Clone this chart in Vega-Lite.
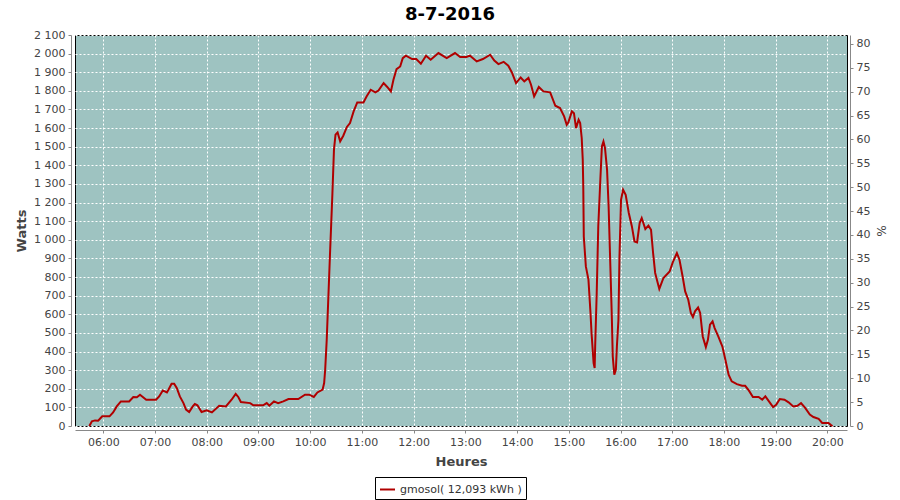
{
  "$schema": "https://vega.github.io/schema/vega-lite/v6.json",
  "width": 772,
  "height": 391,
  "autosize": {"type": "none"},
  "padding": {"left": 75, "top": 35, "right": 53, "bottom": 74},
  "background": "white",
  "title": {"text": "8-7-2016", "font": "DejaVu Sans", "fontSize": 18, "fontWeight": "bold", "color": "#000", "anchor": "middle", "dx": -11, "offset": 5},
  "config": {
    "view": {"fill": "#9EC3C1", "stroke": "#000", "strokeWidth": 1},
    "axis": {
      "labelFont": "DejaVu Sans", "labelFontSize": 11, "labelColor": "#444",
      "titleFont": "DejaVu Sans", "titleFontSize": 13, "titleFontWeight": "bold", "titleColor": "#444",
      "domainColor": "#888", "tickColor": "#888", "tickSize": 3, "labelPadding": 3,
      "gridColor": "#ffffff", "gridDash": [2, 2], "gridOpacity": 1, "gridWidth": 1,
      "labelOverlap": false, "labelFlush": false
    },
    "legend": {
      "orient": "none", "legendX": 300, "legendY": 442,
      "strokeColor": "#000", "fillColor": "#fff", "padding": 4, "cornerRadius": 0,
      "symbolType": "stroke", "symbolStrokeWidth": 2, "symbolSize": 225,
      "labelFont": "DejaVu Sans", "labelFontSize": 11, "labelColor": "#333", "labelOffset": 4
    }
  },
  "data": {"values": [
    {"h": 5.73, "w": 0}, {"h": 5.78, "w": 25}, {"h": 5.84, "w": 30}, {"h": 5.90, "w": 28}, {"h": 5.98, "w": 52},
    {"h": 6.12, "w": 52}, {"h": 6.19, "w": 73}, {"h": 6.26, "w": 105}, {"h": 6.34, "w": 132}, {"h": 6.50, "w": 132},
    {"h": 6.58, "w": 156}, {"h": 6.65, "w": 154}, {"h": 6.71, "w": 168}, {"h": 6.83, "w": 141}, {"h": 7.02, "w": 141},
    {"h": 7.08, "w": 159}, {"h": 7.15, "w": 191}, {"h": 7.23, "w": 180}, {"h": 7.26, "w": 195}, {"h": 7.32, "w": 227},
    {"h": 7.37, "w": 227}, {"h": 7.42, "w": 204}, {"h": 7.48, "w": 159}, {"h": 7.55, "w": 123}, {"h": 7.60, "w": 88},
    {"h": 7.66, "w": 75}, {"h": 7.73, "w": 105}, {"h": 7.77, "w": 118}, {"h": 7.82, "w": 111}, {"h": 7.90, "w": 75},
    {"h": 8.00, "w": 84}, {"h": 8.10, "w": 73}, {"h": 8.16, "w": 88}, {"h": 8.24, "w": 109}, {"h": 8.37, "w": 105},
    {"h": 8.48, "w": 141}, {"h": 8.56, "w": 172}, {"h": 8.61, "w": 156}, {"h": 8.66, "w": 129}, {"h": 8.84, "w": 123},
    {"h": 8.90, "w": 111}, {"h": 9.09, "w": 111}, {"h": 9.16, "w": 123}, {"h": 9.21, "w": 109}, {"h": 9.30, "w": 132},
    {"h": 9.38, "w": 123}, {"h": 9.48, "w": 132}, {"h": 9.58, "w": 145}, {"h": 9.77, "w": 145}, {"h": 9.90, "w": 168},
    {"h": 9.98, "w": 168}, {"h": 10.07, "w": 156}, {"h": 10.14, "w": 180}, {"h": 10.24, "w": 195}, {"h": 10.27, "w": 231},
    {"h": 10.29, "w": 302}, {"h": 10.32, "w": 463}, {"h": 10.38, "w": 900}, {"h": 10.43, "w": 1250}, {"h": 10.46, "w": 1484},
    {"h": 10.49, "w": 1565}, {"h": 10.53, "w": 1577}, {"h": 10.58, "w": 1529}, {"h": 10.64, "w": 1559}, {"h": 10.71, "w": 1606},
    {"h": 10.77, "w": 1627}, {"h": 10.84, "w": 1690}, {"h": 10.91, "w": 1738}, {"h": 11.03, "w": 1738}, {"h": 11.09, "w": 1770},
    {"h": 11.17, "w": 1806}, {"h": 11.26, "w": 1792}, {"h": 11.32, "w": 1802}, {"h": 11.42, "w": 1842}, {"h": 11.49, "w": 1821},
    {"h": 11.56, "w": 1797}, {"h": 11.61, "w": 1860}, {"h": 11.67, "w": 1917}, {"h": 11.74, "w": 1931}, {"h": 11.79, "w": 1976},
    {"h": 11.85, "w": 1989}, {"h": 11.97, "w": 1971}, {"h": 12.05, "w": 1971}, {"h": 12.14, "w": 1946}, {"h": 12.24, "w": 1989},
    {"h": 12.33, "w": 1967}, {"h": 12.48, "w": 2003}, {"h": 12.64, "w": 1976}, {"h": 12.80, "w": 2003}, {"h": 12.90, "w": 1982},
    {"h": 13.02, "w": 1982}, {"h": 13.09, "w": 1989}, {"h": 13.22, "w": 1958}, {"h": 13.34, "w": 1971}, {"h": 13.48, "w": 1994},
    {"h": 13.56, "w": 1963}, {"h": 13.64, "w": 1944}, {"h": 13.74, "w": 1956}, {"h": 13.83, "w": 1935}, {"h": 13.90, "w": 1899},
    {"h": 13.98, "w": 1842}, {"h": 14.07, "w": 1872}, {"h": 14.14, "w": 1851}, {"h": 14.22, "w": 1869}, {"h": 14.27, "w": 1833},
    {"h": 14.33, "w": 1770}, {"h": 14.42, "w": 1821}, {"h": 14.51, "w": 1797}, {"h": 14.64, "w": 1792}, {"h": 14.74, "w": 1720},
    {"h": 14.83, "w": 1708}, {"h": 14.91, "w": 1663}, {"h": 14.96, "w": 1618}, {"h": 14.99, "w": 1630}, {"h": 15.06, "w": 1690},
    {"h": 15.10, "w": 1680}, {"h": 15.14, "w": 1600}, {"h": 15.19, "w": 1645}, {"h": 15.22, "w": 1627}, {"h": 15.25, "w": 1547},
    {"h": 15.27, "w": 1430}, {"h": 15.28, "w": 1287}, {"h": 15.29, "w": 1018}, {"h": 15.33, "w": 857}, {"h": 15.38, "w": 786},
    {"h": 15.42, "w": 607}, {"h": 15.44, "w": 499}, {"h": 15.48, "w": 338}, {"h": 15.50, "w": 311}, {"h": 15.51, "w": 427},
    {"h": 15.54, "w": 714}, {"h": 15.57, "w": 1072}, {"h": 15.61, "w": 1323}, {"h": 15.64, "w": 1502}, {"h": 15.67, "w": 1528},
    {"h": 15.70, "w": 1493}, {"h": 15.74, "w": 1376}, {"h": 15.77, "w": 1179}, {"h": 15.80, "w": 893}, {"h": 15.83, "w": 607},
    {"h": 15.85, "w": 374}, {"h": 15.88, "w": 276}, {"h": 15.91, "w": 302}, {"h": 15.93, "w": 427}, {"h": 15.96, "w": 571},
    {"h": 15.98, "w": 911}, {"h": 16.01, "w": 1215}, {"h": 16.05, "w": 1269}, {"h": 16.10, "w": 1242}, {"h": 16.16, "w": 1144},
    {"h": 16.22, "w": 1072}, {"h": 16.27, "w": 991}, {"h": 16.32, "w": 986}, {"h": 16.37, "w": 1090}, {"h": 16.41, "w": 1117},
    {"h": 16.48, "w": 1058}, {"h": 16.54, "w": 1076}, {"h": 16.59, "w": 1054}, {"h": 16.63, "w": 929}, {"h": 16.67, "w": 822},
    {"h": 16.75, "w": 736}, {"h": 16.83, "w": 795}, {"h": 16.95, "w": 830}, {"h": 17.01, "w": 879}, {"h": 17.09, "w": 929},
    {"h": 17.14, "w": 893}, {"h": 17.20, "w": 804}, {"h": 17.25, "w": 723}, {"h": 17.31, "w": 678}, {"h": 17.36, "w": 607},
    {"h": 17.40, "w": 585}, {"h": 17.44, "w": 616}, {"h": 17.50, "w": 637}, {"h": 17.54, "w": 607}, {"h": 17.59, "w": 481},
    {"h": 17.65, "w": 424}, {"h": 17.69, "w": 463}, {"h": 17.73, "w": 544}, {"h": 17.78, "w": 562}, {"h": 17.82, "w": 526},
    {"h": 17.89, "w": 481}, {"h": 17.97, "w": 427}, {"h": 18.02, "w": 365}, {"h": 18.09, "w": 276}, {"h": 18.15, "w": 240},
    {"h": 18.25, "w": 225}, {"h": 18.35, "w": 216}, {"h": 18.41, "w": 216}, {"h": 18.48, "w": 191}, {"h": 18.56, "w": 156},
    {"h": 18.67, "w": 156}, {"h": 18.74, "w": 141}, {"h": 18.80, "w": 159}, {"h": 18.86, "w": 136}, {"h": 18.95, "w": 102},
    {"h": 19.01, "w": 114}, {"h": 19.08, "w": 145}, {"h": 19.17, "w": 141}, {"h": 19.25, "w": 127}, {"h": 19.34, "w": 105},
    {"h": 19.42, "w": 109}, {"h": 19.49, "w": 123}, {"h": 19.57, "w": 97}, {"h": 19.66, "w": 61}, {"h": 19.73, "w": 48},
    {"h": 19.83, "w": 38}, {"h": 19.90, "w": 16}, {"h": 20.02, "w": 16}, {"h": 20.07, "w": 5}, {"h": 20.10, "w": 0}
  ]},
  "layer": [
    {
      "mark": {"type": "line", "strokeWidth": 2, "interpolate": "linear"},
      "encoding": {
        "x": {
          "field": "h", "type": "quantitative",
          "scale": {"domain": [5.453, 20.379], "nice": false, "zero": false},
          "axis": {
            "values": [6, 7, 8, 9, 10, 11, 12, 13, 14, 15, 16, 17, 18, 19, 20],
            "labelExpr": "(datum.value < 10 ? '0' : '') + datum.value + ':00'",
            "title": "Heures", "offset": 4, "titlePadding": 8, "grid": true
          }
        },
        "y": {
          "field": "w", "type": "quantitative",
          "scale": {"domain": [0, 2100], "nice": false},
          "axis": {
            "values": [0, 100, 200, 300, 400, 500, 600, 700, 800, 900, 1000, 1100, 1200, 1300, 1400, 1500, 1600, 1700, 1800, 1900, 2000, 2100],
            "labelExpr": "replace(format(datum.value, ',d'), ',', ' ')",
            "title": "Watts", "offset": 4, "titlePadding": 5, "grid": true
          }
        },
        "color": {
          "datum": "gmosol( 12,093 kWh )", "type": "nominal",
          "scale": {"range": ["#B00000"]},
          "legend": {"title": null}
        }
      }
    },
    {
      "mark": {"type": "rule", "opacity": 0},
      "encoding": {
        "y": {
          "datum": 0, "type": "quantitative",
          "scale": {"domain": [0, 81.88], "nice": false},
          "axis": {
            "orient": "right",
            "values": [0, 5, 10, 15, 20, 25, 30, 35, 40, 45, 50, 55, 60, 65, 70, 75, 80],
            "title": "%", "offset": 3, "titlePadding": 4, "titleFontWeight": "normal", "titleFontSize": 12, "grid": false
          }
        }
      }
    }
  ],
  "resolve": {"scale": {"y": "independent"}}
}
